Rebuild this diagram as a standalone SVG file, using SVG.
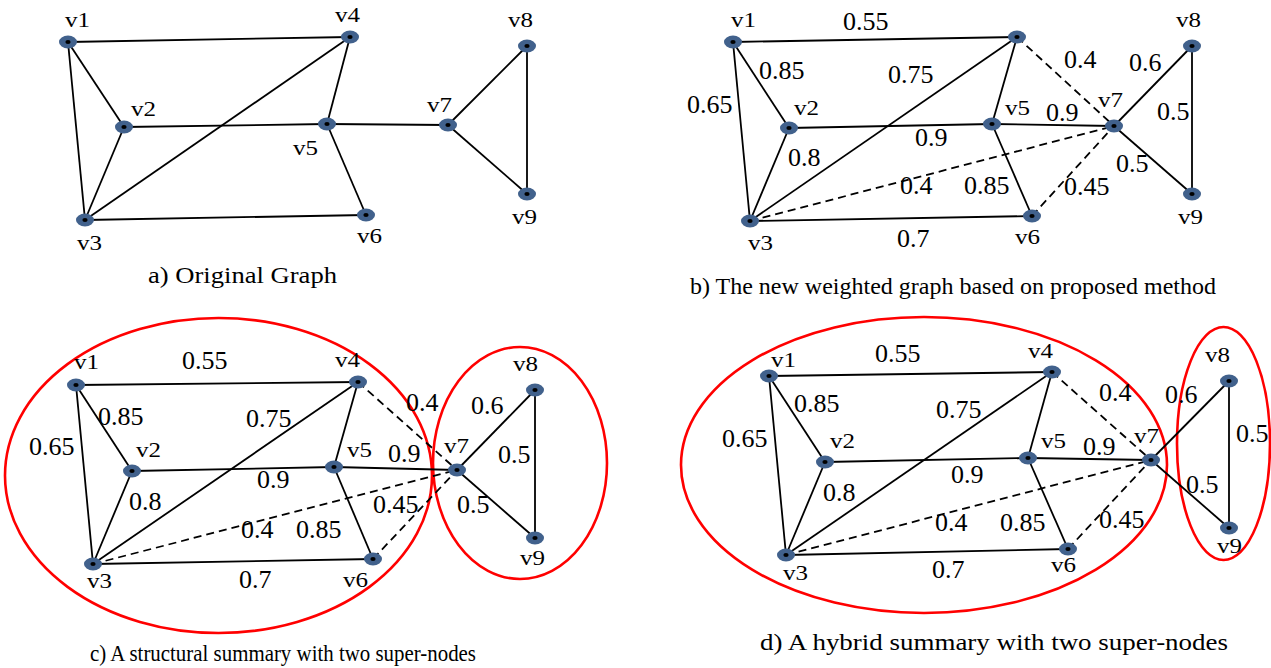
<svg xmlns="http://www.w3.org/2000/svg" xmlns:xlink="http://www.w3.org/1999/xlink" width="1271" height="668" viewBox="0 0 1271 668">
<style>
.e{stroke:#000;stroke-width:1.8;fill:none}
.d{stroke:#000;stroke-width:1.8;fill:none;stroke-dasharray:8 5}
.lb{font-family:"Liberation Serif","Times New Roman",serif;font-size:22px;fill:#000}
.w{font-family:"Liberation Serif","Times New Roman",serif;font-size:26px;fill:#000}
.cap{font-family:"Liberation Serif","Times New Roman",serif;font-size:23px;fill:#000}
.sn{fill:none;stroke:#f00;stroke-width:2.6}
</style>
<defs>
<g id="nd"><ellipse cx="0" cy="0" rx="9" ry="6.5" fill="#41618c"/><ellipse cx="0" cy="0" rx="2.6" ry="2" fill="#000"/></g>
</defs>
<rect width="1271" height="668" fill="#fff"/>

<!-- Panel a connectors -->
<g id="a-edges">
<line class="e" x1="68" y1="42" x2="350" y2="37"/>
<line class="e" x1="68" y1="42" x2="124" y2="127"/>
<line class="e" x1="68" y1="42" x2="85" y2="220"/>
<line class="e" x1="124" y1="127" x2="85" y2="220"/>
<line class="e" x1="124" y1="127" x2="327" y2="124"/>
<line class="e" x1="85" y1="220" x2="350" y2="37"/>
<line class="e" x1="350" y1="37" x2="327" y2="124"/>
<line class="e" x1="327" y1="124" x2="366" y2="215"/>
<line class="e" x1="85" y1="220" x2="366" y2="215"/>
<line class="e" x1="327" y1="124" x2="448" y2="125"/>
<line class="e" x1="448" y1="125" x2="527" y2="46"/>
<line class="e" x1="448" y1="125" x2="527" y2="194"/>
<line class="e" x1="527" y1="46" x2="527" y2="194"/>
</g>
<g id="a-v1"><use xlink:href="#nd" x="68" y="42"/><text class="lb" x="65" y="27" textLength="25" lengthAdjust="spacingAndGlyphs">v1</text></g>
<g id="a-v2"><use xlink:href="#nd" x="124" y="127"/><text class="lb" x="131" y="116" textLength="25" lengthAdjust="spacingAndGlyphs">v2</text></g>
<g id="a-v3"><use xlink:href="#nd" x="85" y="220"/><text class="lb" x="77" y="250" textLength="25" lengthAdjust="spacingAndGlyphs">v3</text></g>
<g id="a-v4"><use xlink:href="#nd" x="350" y="37"/><text class="lb" x="335" y="22" textLength="25" lengthAdjust="spacingAndGlyphs">v4</text></g>
<g id="a-v5"><use xlink:href="#nd" x="327" y="124"/><text class="lb" x="293" y="155" textLength="25" lengthAdjust="spacingAndGlyphs">v5</text></g>
<g id="a-v6"><use xlink:href="#nd" x="366" y="215"/><text class="lb" x="357" y="243" textLength="25" lengthAdjust="spacingAndGlyphs">v6</text></g>
<g id="a-v7"><use xlink:href="#nd" x="448" y="125"/><text class="lb" x="427" y="112" textLength="25" lengthAdjust="spacingAndGlyphs">v7</text></g>
<g id="a-v8"><use xlink:href="#nd" x="527" y="46"/><text class="lb" x="508" y="27" textLength="25" lengthAdjust="spacingAndGlyphs">v8</text></g>
<g id="a-v9"><use xlink:href="#nd" x="527" y="194"/><text class="lb" x="512" y="224" textLength="25" lengthAdjust="spacingAndGlyphs">v9</text></g>
<text class="cap" x="148" y="283" textLength="189" lengthAdjust="spacingAndGlyphs">a) Original Graph</text>

<!-- Panel b connectors -->
<g id="b-edges">
<line class="e" x1="733" y1="42" x2="1017" y2="37"/>
<line class="e" x1="733" y1="42" x2="789" y2="128"/>
<line class="e" x1="733" y1="42" x2="750" y2="221"/>
<line class="e" x1="789" y1="128" x2="750" y2="221"/>
<line class="e" x1="789" y1="128" x2="992" y2="124"/>
<line class="e" x1="750" y1="221" x2="1017" y2="37"/>
<line class="e" x1="1017" y1="37" x2="992" y2="124"/>
<line class="e" x1="992" y1="124" x2="1032" y2="216"/>
<line class="e" x1="750" y1="221" x2="1032" y2="216"/>
<line class="e" x1="992" y1="124" x2="1114" y2="126"/>
<line class="e" x1="1114" y1="126" x2="1192" y2="46"/>
<line class="e" x1="1114" y1="126" x2="1192" y2="194"/>
<line class="e" x1="1192" y1="46" x2="1192" y2="194"/>
<line class="d" x1="1017" y1="37" x2="1114" y2="126"/>
<line class="d" x1="750" y1="221" x2="1114" y2="126"/>
<line class="d" x1="1032" y1="216" x2="1114" y2="126"/>
</g>
<g id="b-weights">
<text class="w" x="843" y="30">0.55</text>
<text class="w" x="759" y="79">0.85</text>
<text class="w" x="888" y="83">0.75</text>
<text class="w" x="687" y="113">0.65</text>
<text class="w" x="915" y="146">0.9</text>
<text class="w" x="788" y="166">0.8</text>
<text class="w" x="900" y="194">0.4</text>
<text class="w" x="964" y="194">0.85</text>
<text class="w" x="897" y="247">0.7</text>
<text class="w" x="1064" y="68">0.4</text>
<text class="w" x="1129" y="71">0.6</text>
<text class="w" x="1046" y="121">0.9</text>
<text class="w" x="1157" y="120">0.5</text>
<text class="w" x="1116" y="172">0.5</text>
<text class="w" x="1064" y="195">0.45</text>
</g>
<g id="b-v1"><use xlink:href="#nd" x="733" y="42"/><text class="lb" x="731" y="27" textLength="25" lengthAdjust="spacingAndGlyphs">v1</text></g>
<g id="b-v2"><use xlink:href="#nd" x="789" y="128"/><text class="lb" x="794" y="115" textLength="25" lengthAdjust="spacingAndGlyphs">v2</text></g>
<g id="b-v3"><use xlink:href="#nd" x="750" y="221"/><text class="lb" x="748" y="250" textLength="25" lengthAdjust="spacingAndGlyphs">v3</text></g>
<g id="b-v4"><use xlink:href="#nd" x="1017" y="37"/></g>
<g id="b-v5"><use xlink:href="#nd" x="992" y="124"/><text class="lb" x="1005" y="115" textLength="25" lengthAdjust="spacingAndGlyphs">v5</text></g>
<g id="b-v6"><use xlink:href="#nd" x="1032" y="216"/><text class="lb" x="1015" y="244" textLength="25" lengthAdjust="spacingAndGlyphs">v6</text></g>
<g id="b-v7"><use xlink:href="#nd" x="1114" y="126"/><text class="lb" x="1098" y="107" textLength="25" lengthAdjust="spacingAndGlyphs">v7</text></g>
<g id="b-v8"><use xlink:href="#nd" x="1192" y="46"/><text class="lb" x="1176" y="27" textLength="25" lengthAdjust="spacingAndGlyphs">v8</text></g>
<g id="b-v9"><use xlink:href="#nd" x="1192" y="194"/><text class="lb" x="1178" y="224" textLength="25" lengthAdjust="spacingAndGlyphs">v9</text></g>
<text class="cap" x="690" y="294" textLength="526" lengthAdjust="spacingAndGlyphs">b) The new weighted graph based on proposed method</text>

<!-- Panel c -->
<g id="c-supernodes">
<ellipse class="sn" cx="218.5" cy="475.5" rx="213.5" ry="157.5"/>
<ellipse class="sn" cx="520" cy="463" rx="87" ry="116"/>
</g>
<g id="c-edges">
<line class="e" x1="76" y1="385" x2="358" y2="382"/>
<line class="e" x1="76" y1="385" x2="132" y2="471"/>
<line class="e" x1="76" y1="385" x2="93" y2="564"/>
<line class="e" x1="132" y1="471" x2="93" y2="564"/>
<line class="e" x1="132" y1="471" x2="334" y2="467"/>
<line class="e" x1="93" y1="564" x2="358" y2="382"/>
<line class="e" x1="358" y1="382" x2="334" y2="467"/>
<line class="e" x1="334" y1="467" x2="373" y2="559"/>
<line class="e" x1="93" y1="564" x2="373" y2="559"/>
<line class="e" x1="334" y1="467" x2="457" y2="470"/>
<line class="e" x1="457" y1="470" x2="535" y2="390"/>
<line class="e" x1="457" y1="470" x2="535" y2="538"/>
<line class="e" x1="535" y1="390" x2="535" y2="538"/>
<line class="d" x1="358" y1="382" x2="457" y2="470"/>
<line class="d" x1="93" y1="564" x2="457" y2="470"/>
<line class="d" x1="373" y1="559" x2="457" y2="470"/>
</g>
<g id="c-weights">
<text class="w" x="182" y="369">0.55</text>
<text class="w" x="98" y="425">0.85</text>
<text class="w" x="246" y="427">0.75</text>
<text class="w" x="29" y="455">0.65</text>
<text class="w" x="406" y="411">0.4</text>
<text class="w" x="388" y="462">0.9</text>
<text class="w" x="257" y="488">0.9</text>
<text class="w" x="129" y="510">0.8</text>
<text class="w" x="373" y="513">0.45</text>
<text class="w" x="241" y="538">0.4</text>
<text class="w" x="296" y="538">0.85</text>
<text class="w" x="239" y="588">0.7</text>
<text class="w" x="471" y="414">0.6</text>
<text class="w" x="498" y="463">0.5</text>
<text class="w" x="457" y="513">0.5</text>
</g>
<g id="c-v1"><use xlink:href="#nd" x="76" y="385"/><text class="lb" x="74" y="369" textLength="25" lengthAdjust="spacingAndGlyphs">v1</text></g>
<g id="c-v2"><use xlink:href="#nd" x="132" y="471"/><text class="lb" x="136" y="457" textLength="25" lengthAdjust="spacingAndGlyphs">v2</text></g>
<g id="c-v3"><use xlink:href="#nd" x="93" y="564"/><text class="lb" x="87" y="588" textLength="25" lengthAdjust="spacingAndGlyphs">v3</text></g>
<g id="c-v4"><use xlink:href="#nd" x="358" y="382"/><text class="lb" x="335" y="367" textLength="25" lengthAdjust="spacingAndGlyphs">v4</text></g>
<g id="c-v5"><use xlink:href="#nd" x="334" y="467"/><text class="lb" x="347" y="457" textLength="25" lengthAdjust="spacingAndGlyphs">v5</text></g>
<g id="c-v6"><use xlink:href="#nd" x="373" y="559"/><text class="lb" x="343" y="587" textLength="25" lengthAdjust="spacingAndGlyphs">v6</text></g>
<g id="c-v7"><use xlink:href="#nd" x="457" y="470"/><text class="lb" x="444" y="453" textLength="25" lengthAdjust="spacingAndGlyphs">v7</text></g>
<g id="c-v8"><use xlink:href="#nd" x="535" y="390"/><text class="lb" x="513" y="371" textLength="25" lengthAdjust="spacingAndGlyphs">v8</text></g>
<g id="c-v9"><use xlink:href="#nd" x="535" y="538"/><text class="lb" x="520" y="565" textLength="25" lengthAdjust="spacingAndGlyphs">v9</text></g>
<text class="cap" x="90" y="661" textLength="386" lengthAdjust="spacingAndGlyphs">c) A structural summary with two super-nodes</text>

<!-- Panel d -->
<g id="d-supernodes">
<ellipse class="sn" cx="924" cy="465" rx="243" ry="148"/>
<ellipse class="sn" cx="1223.5" cy="443.5" rx="46.5" ry="116.5"/>
</g>
<g id="d-edges">
<line class="e" x1="769" y1="376" x2="1052" y2="372"/>
<line class="e" x1="769" y1="376" x2="825" y2="462"/>
<line class="e" x1="769" y1="376" x2="786" y2="555"/>
<line class="e" x1="825" y1="462" x2="786" y2="555"/>
<line class="e" x1="825" y1="462" x2="1028" y2="458"/>
<line class="e" x1="786" y1="555" x2="1052" y2="372"/>
<line class="e" x1="1052" y1="372" x2="1028" y2="458"/>
<line class="e" x1="1028" y1="458" x2="1068" y2="549"/>
<line class="e" x1="786" y1="555" x2="1068" y2="549"/>
<line class="e" x1="1028" y1="458" x2="1151" y2="460"/>
<line class="e" x1="1151" y1="460" x2="1229" y2="381"/>
<line class="e" x1="1151" y1="460" x2="1229" y2="528"/>
<line class="e" x1="1229" y1="381" x2="1229" y2="528"/>
<line class="d" x1="1052" y1="372" x2="1151" y2="460"/>
<line class="d" x1="786" y1="555" x2="1151" y2="460"/>
<line class="d" x1="1068" y1="549" x2="1151" y2="460"/>
</g>
<g id="d-weights">
<text class="w" x="875" y="362">0.55</text>
<text class="w" x="794" y="412">0.85</text>
<text class="w" x="936" y="418">0.75</text>
<text class="w" x="722" y="447">0.65</text>
<text class="w" x="951" y="483">0.9</text>
<text class="w" x="823" y="501">0.8</text>
<text class="w" x="935" y="531">0.4</text>
<text class="w" x="1000" y="531">0.85</text>
<text class="w" x="932" y="578">0.7</text>
<text class="w" x="1099" y="401">0.4</text>
<text class="w" x="1165" y="403">0.6</text>
<text class="w" x="1083" y="455">0.9</text>
<text class="w" x="1236" y="442">0.5</text>
<text class="w" x="1186" y="493">0.5</text>
<text class="w" x="1099" y="528">0.45</text>
</g>
<g id="d-v1"><use xlink:href="#nd" x="769" y="376"/><text class="lb" x="771" y="367" textLength="25" lengthAdjust="spacingAndGlyphs">v1</text></g>
<g id="d-v2"><use xlink:href="#nd" x="825" y="462"/><text class="lb" x="830" y="448" textLength="25" lengthAdjust="spacingAndGlyphs">v2</text></g>
<g id="d-v3"><use xlink:href="#nd" x="786" y="555"/><text class="lb" x="783" y="580" textLength="25" lengthAdjust="spacingAndGlyphs">v3</text></g>
<g id="d-v4"><use xlink:href="#nd" x="1052" y="372"/><text class="lb" x="1028" y="358" textLength="25" lengthAdjust="spacingAndGlyphs">v4</text></g>
<g id="d-v5"><use xlink:href="#nd" x="1028" y="458"/><text class="lb" x="1041" y="448" textLength="25" lengthAdjust="spacingAndGlyphs">v5</text></g>
<g id="d-v6"><use xlink:href="#nd" x="1068" y="549"/><text class="lb" x="1051" y="572" textLength="25" lengthAdjust="spacingAndGlyphs">v6</text></g>
<g id="d-v7"><use xlink:href="#nd" x="1151" y="460"/><text class="lb" x="1134" y="443" textLength="25" lengthAdjust="spacingAndGlyphs">v7</text></g>
<g id="d-v8"><use xlink:href="#nd" x="1229" y="381"/><text class="lb" x="1205" y="362" textLength="25" lengthAdjust="spacingAndGlyphs">v8</text></g>
<g id="d-v9"><use xlink:href="#nd" x="1229" y="528"/><text class="lb" x="1217" y="553" textLength="25" lengthAdjust="spacingAndGlyphs">v9</text></g>
<text class="cap" x="760" y="650" textLength="468" lengthAdjust="spacingAndGlyphs">d) A hybrid summary with two super-nodes</text>
</svg>
